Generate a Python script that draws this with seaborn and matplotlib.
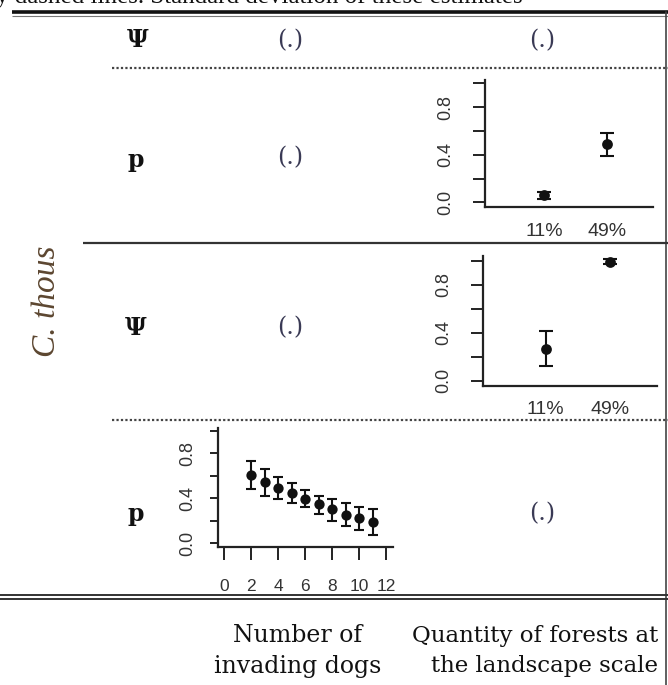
import matplotlib
matplotlib.use("Agg")
import matplotlib.pyplot as plt
from matplotlib.lines import Line2D
import seaborn as sns
import pandas as pd

# ---------------- data ----------------
forest_levels = ["11%", "49%"]
p_forest = [0.062, 0.49]
p_forest_lo = [0.025, 0.39]
p_forest_hi = [0.09, 0.58]

psi_forest = [0.264, 0.99]
psi_forest_lo = [0.125, 0.97]
psi_forest_hi = [0.417, 1.01]

dogs = [2, 3, 4, 5, 6, 7, 8, 9, 10, 11]
p_dogs = [0.607, 0.548, 0.489, 0.444, 0.391, 0.347, 0.302, 0.252, 0.222, 0.187]
p_dogs_lo = [0.48, 0.42, 0.39, 0.356, 0.32, 0.26, 0.20, 0.154, 0.118, 0.074]
p_dogs_hi = [0.73, 0.66, 0.59, 0.533, 0.47, 0.42, 0.39, 0.356, 0.32, 0.305]

y_ticks = [0.0, 0.2, 0.4, 0.6, 0.8, 1.0]
y_ticklabels = ["0.0", "", "0.4", "", "0.8", ""]
dog_ticks = [0, 2, 4, 6, 8, 10, 12]

row_params = ["\u03a8", "p", "\u03a8", "p"]
col_headers = ["Number of\ninvading dogs", "Quantity of forests at\nthe landscape scale"]
species = "C. thous"

# ---------------- figure ----------------
sns.set_theme(style="ticks")
plt.rcParams["font.family"] = ["Liberation Sans", "DejaVu Sans"]
W, H = 668, 685
fig = plt.figure(figsize=(W / 100, H / 100), dpi=100)
fig.patch.set_facecolor("white")


def fx(x):
    return x / W


def fy(y):
    return 1 - y / H


def hline(y, x0, x1, lw=1.5, color="#222222", ls="-"):
    fig.add_artist(Line2D([fx(x0), fx(x1)], [fy(y), fy(y)], transform=fig.transFigure,
                          lw=lw, color=color, linestyle=ls, solid_capstyle="butt"))


def vline(x, y0, y1, lw=1.5, color="#222222"):
    fig.add_artist(Line2D([fx(x), fx(x)], [fy(y0), fy(y1)], transform=fig.transFigure,
                          lw=lw, color=color))


def add_ax(left, top, right, bottom):
    return fig.add_axes([fx(left), fy(bottom), (right - left) / W, (bottom - top) / H])


def style_ax(ax, ylim, xlim, ytick_len, ytick_pad):
    sns.despine(ax=ax)
    for s in ("left", "bottom"):
        ax.spines[s].set_linewidth(1.6)
        ax.spines[s].set_color("#222222")
    ax.set_facecolor("none")
    ax.set_ylim(*ylim)
    ax.set_xlim(*xlim)
    ax.set_yticks(y_ticks)
    ax.set_yticklabels(y_ticklabels, rotation=90, va="center", fontsize=13, color="#333333")
    ax.tick_params(axis="y", length=ytick_len, width=1.4, pad=ytick_pad, color="#222222")
    ax.set_xlabel("")
    ax.set_ylabel("")


def draw_points(ax, x, y, lo, hi, capsize, ms):
    df = pd.DataFrame({"x": x, "y": y})
    ax.errorbar(x, y, yerr=[[a - b for a, b in zip(y, lo)], [b - a for a, b in zip(y, hi)]],
                fmt="none", ecolor="#111111", elinewidth=1.5, capsize=capsize, capthick=1.5, zorder=2)
    sns.scatterplot(data=df, x="x", y="y", ax=ax, color="#111111", s=ms, edgecolor="#111111",
                    linewidth=0, zorder=3, legend=False)


# top partial caption (cut off by the top edge, as in the source screenshot)
fig.text(fx(-4), fy(3), "y dashed lines. Standard deviation of these estimates",
         family="Liberation Serif", fontsize=18, ha="left", va="baseline", color="#111111")

# table lines
hline(12, 12, 668, lw=2.6, color="#111111")
hline(15.5, 12, 668, lw=0.8, color="#777777")
vline(666, 12, 685, lw=1.2, color="#444444")
hline(68, 112, 668, lw=1.6, color="#444444", ls=(0, (1, 1)))
hline(243, 83, 668, lw=1.6, color="#333333")
hline(420, 112, 668, lw=1.6, color="#444444", ls=(0, (1, 1)))
hline(595, 0, 668, lw=1.4, color="#333333")
hline(599, 0, 668, lw=1.4, color="#333333")

# row labels
row_y = [40, 160, 328, 514]
row_x = [138, 136, 136, 136]
for lab, x, y in zip(row_params, row_x, row_y):
    fig.text(fx(x), fy(y), lab, family="DejaVu Serif", fontweight="bold", fontsize=17,
             ha="center", va="center", color="#111111")

# "(.)" constant model entries
dot_pos = [(290, 41), (542, 41), (290, 158), (290, 328), (542, 514)]
for x, y in dot_pos:
    fig.text(fx(x), fy(y), "(.)", family="DejaVu Serif", fontsize=17,
             ha="center", va="center", color="#3a3a55")

# species label
fig.text(fx(47), fy(301), species, family="Liberation Serif", style="italic", fontsize=24,
         rotation=90, ha="center", va="center", color="#5c4630")

# column headers
fig.text(fx(298), fy(651), col_headers[0], family="DejaVu Serif", fontsize=17,
         ha="center", va="center", multialignment="center", linespacing=1.45, color="#111111")
fig.text(fx(658), fy(651), col_headers[1], family="DejaVu Serif", fontsize=16.5,
         ha="right", va="center", multialignment="right", linespacing=1.5, color="#111111")

# ---------- inset: p vs forest (row 2) ----------
ax2 = add_ax(485, 80, 653, 206.7)
draw_points(ax2, forest_levels, p_forest, p_forest_lo, p_forest_hi, capsize=4.7, ms=60)
style_ax(ax2, (-0.037, 1.028), (-0.932, 1.72), ytick_len=9, ytick_pad=13)
ax2.tick_params(axis="x", length=0, pad=12, labelsize=14, labelcolor="#333333")

# ---------- inset: psi vs forest (row 3) ----------
ax3 = add_ax(483.3, 256, 656.7, 386)
draw_points(ax3, forest_levels, psi_forest, psi_forest_lo, psi_forest_hi, capsize=4.7, ms=60)
style_ax(ax3, (-0.044, 1.039), (-0.97, 1.73), ytick_len=9, ytick_pad=13)
ax3.tick_params(axis="x", length=0, pad=11, labelsize=14, labelcolor="#333333")

# ---------- inset: p vs number of dogs (row 4) ----------
ax4 = add_ax(218.3, 428.3, 393.3, 546.7)
draw_points(ax4, dogs, p_dogs, p_dogs_lo, p_dogs_hi, capsize=3.6, ms=55)
style_ax(ax4, (-0.03, 1.021), (-0.444, 12.52), ytick_len=6, ytick_pad=10)
ax4.set_xticks(dog_ticks)
ax4.set_xticklabels([str(t) for t in dog_ticks])
ax4.tick_params(axis="x", length=9, width=1.4, pad=14, labelsize=12.5, labelcolor="#333333",
                color="#222222")

fig.savefig("out.png", dpi=100, facecolor="white")
